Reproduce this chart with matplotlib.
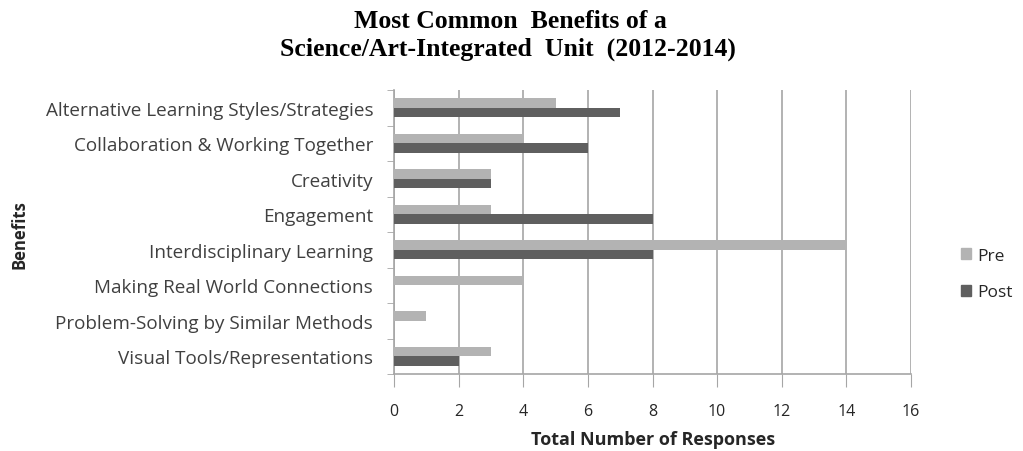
import matplotlib.pyplot as plt
import numpy as np
from matplotlib.patches import Patch

categories = ['Alternative Learning Styles/Strategies', 'Collaboration & Working Together',
              'Creativity', 'Engagement', 'Interdisciplinary Learning',
              'Making Real World Connections', 'Problem-Solving by Similar Methods',
              'Visual Tools/Representations']
pre = [5, 4, 3, 3, 14, 4, 1, 3]
post = [7, 6, 3, 8, 8, 0, 0, 2]
x_ticks = [0, 2, 4, 6, 8, 10, 12, 14, 16]

PRE_COLOR = '#b3b3b3'
POST_COLOR = '#5f5f5f'
GRID_COLOR = '#a6a6a6'
TEXT_COLOR = '#404040'

plt.rcParams['font.family'] = ['Open Sans', 'DejaVu Sans']

fig = plt.figure(figsize=(10.23, 4.52), dpi=100)
# plot area in pixels: x 394..911, y 91..375
ax = fig.add_axes([394 / 1023, 1 - 375 / 452, 517 / 1023, 284 / 452])

y = np.arange(len(categories))
h = 0.27
ax.barh(y - h / 2, pre, height=h, color=PRE_COLOR, label='Pre', zorder=3)
ax.barh(y + h / 2, post, height=h, color=POST_COLOR, label='Post', zorder=3)

ax.set_ylim(len(categories) - 0.5, -0.5)
ax.set_xlim(0, 16)
ax.set_xticks(x_ticks)
ax.set_yticks(y)
ax.set_yticklabels(categories, fontsize=13.6, color=TEXT_COLOR)
ax.set_yticks(np.arange(len(categories) + 1) - 0.5, minor=True)
ax.tick_params(axis='y', which='major', length=0, pad=15)
ax.tick_params(axis='y', which='minor', length=5, color=GRID_COLOR, direction='out')
ax.tick_params(axis='x', length=9, color=GRID_COLOR, labelsize=11.5, labelcolor='#262626', pad=12)

ax.grid(axis='x', color=GRID_COLOR, linewidth=1.2, zorder=0)
for side in ['top', 'right']:
    ax.spines[side].set_visible(False)
for side in ['left', 'bottom']:
    ax.spines[side].set_color(GRID_COLOR)
    ax.spines[side].set_linewidth(1.2)

fig.text(653 / 1023, 1 - 440 / 452, 'Total Number of Responses', fontsize=13, fontweight='bold',
         color='#262626', ha='center', va='center')
fig.text(20 / 1023, 1 - 235 / 452, 'Benefits', rotation=90, fontsize=12, fontweight='bold',
         color='#262626', ha='center', va='center')

fig.text(510 / 1023, 1 - 21 / 452, 'Most Common  Benefits of a',
         family='Liberation Serif', fontsize=18.5, fontweight='bold', ha='center', va='center')
fig.text(508 / 1023, 1 - 49 / 452, 'Science/Art-Integrated  Unit  (2012-2014)',
         family='Liberation Serif', fontsize=18.5, fontweight='bold', ha='center', va='center')

handles = [Patch(color=PRE_COLOR), Patch(color=POST_COLOR)]
fig.legend(handles, ['Pre', 'Post'], loc='center left', bbox_to_anchor=(945 / 1023, 1 - 275 / 452),
           frameon=False, fontsize=12.5, handlelength=0.6, handleheight=0.6, handletextpad=0.35,
           labelspacing=1.2, labelcolor='#262626')

fig.savefig('out.png', dpi=100)
